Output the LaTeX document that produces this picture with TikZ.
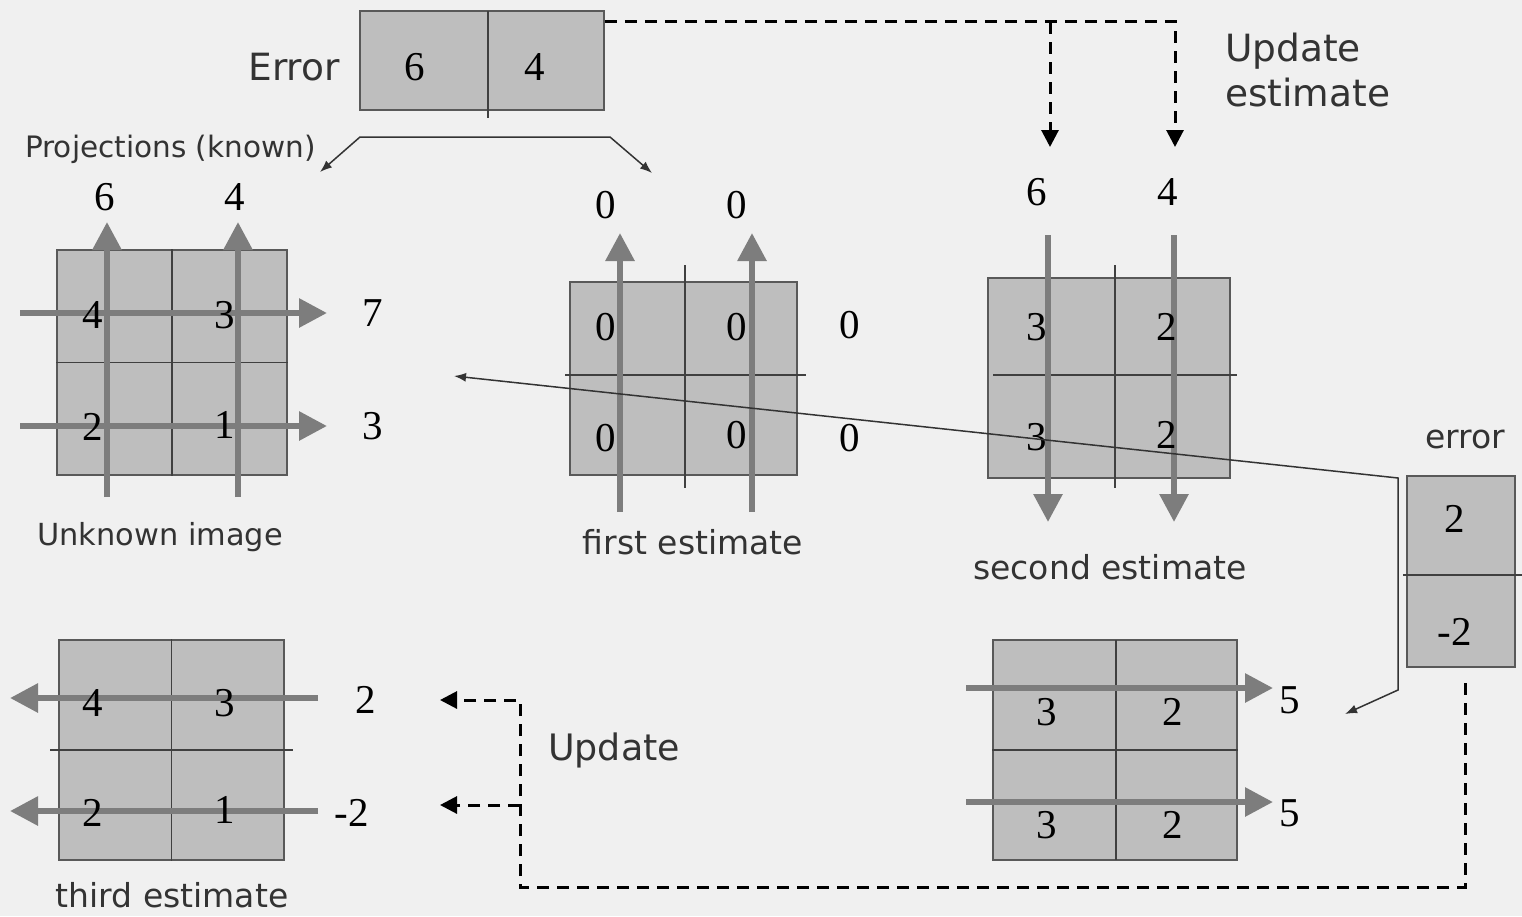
\documentclass[tikz,border=0pt]{standalone}
\usepackage{fontspec}
\setmainfont{Liberation Serif}
\newfontfamily\vfont{DejaVu Sans}
\usepackage{xcolor}
\usetikzlibrary{arrows.meta,positioning,calc}

\definecolor{bg}{RGB}{240,240,240}
\definecolor{cellgray}{RGB}{190,190,190}
\definecolor{projgray}{RGB}{125,125,125}

\tikzset{
  cell/.style={draw=black!65,line width=1.5pt,fill=cellgray,inner sep=0pt},
  divline/.style={black!75,line width=1.5pt},
  proj/.style={projgray,line width=6pt,-{Triangle[length=28pt,width=28pt]}},
  upd/.style={line width=3pt,dash pattern=on 12pt off 8pt,-{Triangle[length=17pt,width=17pt]}},
  backline/.style={black!80,line width=1.5pt},
  num/.style={font=\fontsize{41}{41}\selectfont,inner sep=2pt},
  lab/.style={font=\vfont\fontsize{33}{38}\selectfont,text=black!80,inner sep=0pt},
  biglab/.style={font=\vfont\fontsize{37.5}{45}\selectfont,text=black!80,inner sep=0pt,align=left},
}

\begin{document}
\begin{tikzpicture}[x=1pt,y=-1pt]
\useasboundingbox[fill=bg] (0,0) rectangle (1522,916);

% error of the first estimate
\node[cell,minimum width=244pt,minimum height=99pt] (errbox) at (482,60.5) {};
\draw[divline] (488,11) -- (488,118);
\node[num] (e6) at (415,67) {6};
\node[num] (e4) at (535,67) {4};
\node[biglab,anchor=east] (errlab) at (340,67) {Error};
\node[lab,font=\vfont\fontsize{29.5}{32}\selectfont,anchor=west] (projlab) at (25,149) {Projections (known)};
\draw[backline,{Latex[length=12pt,width=9pt]}-{Latex[length=12pt,width=9pt]}] (320,172) -- (360,137) -- (610,137) -- (652,173);

% unknown image
\node[cell,minimum width=230pt,minimum height=225pt] (g1) at (172,362.5) {};
\draw[divline] (g1.north) -- (g1.south) (g1.west) -- (g1.east);
\foreach \x in {107,238} \draw[proj] (\x,497) -- (\x,222);
\foreach \y in {313,426} \draw[proj] (20,\y) -- (327,\y);
\foreach \x/\y/\v [count=\i] in {93/315/4,225/315/3,93/427/2,225/425/1,105/197/6,235/197/4,373/313/7,373/426/3}
  \node[num] (g1n\i) at (\x,\y) {\v};
\node[lab,font=\vfont\fontsize{30.4}{34}\selectfont] (g1lab) at (160,537) {Unknown image};

% first estimate
\node[cell,minimum width=227pt,minimum height=193pt] (g2) at (683.5,378.5) {};
\draw[divline] (565,375) -- (806,375) (685,265) -- (685,488);
\foreach \x in {620,752} \draw[proj] (\x,512) -- (\x,233);
\foreach \x/\y/\v [count=\i] in {606/327/0,737/327/0,606/438/0,737/435/0,606/205/0,737/205/0,850/325/0,850/438/0}
  \node[num] (g2n\i) at (\x,\y) {\v};
\node[lab] (g2lab) at (693,542) {first estimate};

% second estimate
\node[cell,minimum width=242pt,minimum height=200pt] (g3) at (1109,378) {};
\draw[divline] (993,375) -- (1237,375) (1115,265) -- (1115,488);
\foreach \x in {1048,1174} \draw[proj] (\x,235) -- (\x,522);
\foreach \x/\y/\v [count=\i] in {1037/327/3,1167/327/2,1037/437/3,1167/435/2,1037/192/6,1168/192/4}
  \node[num] (g3n\i) at (\x,\y) {\v};
\node[lab] (g3lab) at (1110,567) {second estimate};

% update of the columns
\coordinate (up6) at (1050,147);
\coordinate (up4) at (1175,147);
\draw[upd] ($(errbox.north east)+(0,11)$) -| (up4);
\draw[upd] (1050,22) -- (up6);
\node[biglab,anchor=west] (updlab) at (1225,70) {Update\\estimate};

% error of the rows
\node[cell,minimum width=108pt,minimum height=191pt] (err2) at (1461,571.5) {};
\draw[divline] (1403,575) -- (1522,575);
\node[num] (r2) at (1455,519) {2};
\node[num] (rm2) at (1455,632) {-2};
\node[lab] (err2lab) at (1465,439) {error};

% row sums of the second estimate
\node[cell,minimum width=244pt,minimum height=220pt] (g4) at (1115,750) {};
\draw[divline] (g4.west) -- (g4.east) (1116,640) -- (1116,860);
\foreach \y in {688,802} \draw[proj] (966,\y) -- (1273,\y);
\foreach \x/\y/\v [count=\i] in {1047/712/3,1173/712/2,1047/825/3,1173/825/2,1290/700/5,1290/813/5}
  \node[num] (g4n\i) at (\x,\y) {\v};

% thin connector
\draw[backline,{Latex[length=12pt,width=9pt]}-{Latex[length=12pt,width=9pt]}] (454,376) -- (1398,478) -- (1398,690) -- (1345,714);

% update of the rows
\coordinate (ur1) at (440,700);
\coordinate (ur2) at (440,805);
\draw[upd] (1465,683) |- (520,887) |- (ur1);
\draw[upd] (520,805) -- (ur2);
\node[biglab,font=\vfont\fontsize{36.4}{40}\selectfont,anchor=west] (updlab2) at (548,750) {Update};

% third estimate
\node[cell,minimum width=225pt,minimum height=220pt] (g5) at (171.5,750) {};
\draw[divline] (50,750) -- (293,750) (g5.north) -- (g5.south);
\foreach \y in {698,811} \draw[proj] (318,\y) -- (10,\y);
\foreach \x/\y/\v [count=\i] in {93/703/4,225/703/3,93/813/2,225/810/1,366/700/2,352/813/-2}
  \node[num] (g5n\i) at (\x,\y) {\v};
\node[lab] (g5lab) at (172,895) {third estimate};
\end{tikzpicture}
\end{document}
